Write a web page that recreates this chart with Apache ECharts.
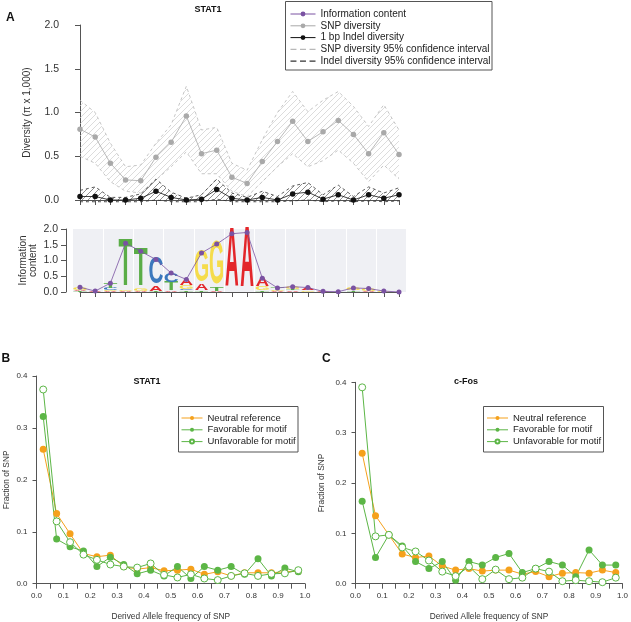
<!DOCTYPE html>
<html><head><meta charset="utf-8">
<script src="https://cdn.jsdelivr.net/npm/echarts@6/dist/echarts.min.js"></script>
<style>html,body{margin:0;padding:0;background:#fff}#c{width:631px;height:622px}</style>
</head><body><div id="c"></div>
<script>
// ---------- Panel A data (22 motif positions) ----------
const positions = ['1','2','3','4','5','6','7','8','9','10','11','12','13','14','15','16','17','18','19','20','21','22'];
const snpDiversity = [0.81,0.72,0.42,0.23,0.22,0.49,0.66,0.96,0.53,0.57,0.26,0.19,0.44,0.67,0.90,0.67,0.78,0.91,0.75,0.53,0.77,0.52];
const snpUpper = [1.14,1.00,0.65,0.38,0.40,0.65,0.86,1.30,0.80,0.83,0.42,0.34,0.69,1.00,1.24,1.01,1.14,1.24,1.07,0.84,1.09,0.80];
const snpLower = [0.50,0.42,0.21,0.10,0.08,0.23,0.38,0.55,0.30,0.30,0.10,0.04,0.21,0.38,0.53,0.38,0.45,0.57,0.42,0.21,0.40,0.24];
const indelDiversity = [0.04,0.04,0.00,0.00,0.02,0.10,0.03,0.00,0.01,0.12,0.02,0.00,0.03,0.00,0.07,0.09,0.01,0.06,0.00,0.06,0.02,0.06];
const indelUpper = [0.11,0.15,0.03,0.03,0.07,0.24,0.09,0.02,0.06,0.24,0.08,0.03,0.10,0.04,0.16,0.20,0.06,0.17,0.04,0.15,0.08,0.14];
const indelLower = [-0.02,-0.02,-0.02,-0.02,-0.02,0.00,-0.02,-0.02,-0.02,0.01,-0.02,-0.02,-0.02,-0.02,-0.01,0.00,-0.02,-0.01,-0.02,-0.01,-0.02,-0.01];
const infoContent = [0.15,0.03,0.28,1.55,1.29,1.03,0.60,0.40,1.24,1.52,1.85,1.89,0.44,0.13,0.17,0.14,0.02,0.01,0.13,0.11,0.03,0.00];
// sequence logo: letters stacked bottom -> top with heights (bits)
const logoLetters = [
  [['T',0.02],['A',0.05],['G',0.07]],
  [['A',0.02]],
  [['A',0.03],['G',0.03],['C',0.06],['T',0.16]],
  [['A',0.02],['G',0.03],['T',1.50]],
  [['A',0.03],['G',0.07],['T',1.18]],
  [['T',0.02],['A',0.18],['C',0.83]],
  [['A',0.02],['T',0.28],['C',0.30]],
  [['T',0.05],['C',0.04],['G',0.10],['A',0.20]],
  [['T',0.04],['A',0.20],['G',1.00]],
  [['A',0.03],['T',0.12],['G',1.37]],
  [['A',1.85]],
  [['A',1.89]],
  [['T',0.05],['G',0.12],['A',0.27]],
  [['A',0.03],['G',0.04],['T',0.06]],
  [['A',0.05],['T',0.05],['G',0.07]],
  [['G',0.05],['A',0.09]],
  [['A',0.02]],
  [],
  [['T',0.05],['G',0.08]],
  [['A',0.04],['G',0.07]],
  [['G',0.03]],
  []
];
// ---------- Panels B & C data ----------
const afBins = [0.025,0.075,0.125,0.175,0.225,0.275,0.325,0.375,0.425,0.475,0.525,0.575,0.625,0.675,0.725,0.775,0.825,0.875,0.925,0.975];
const stat1Neutral = [0.259,0.135,0.096,0.058,0.052,0.055,0.033,0.028,0.031,0.025,0.026,0.028,0.018,0.023,0.015,0.021,0.021,0.021,0.023,0.024];
const stat1Favorable = [0.322,0.086,0.071,0.063,0.033,0.051,0.037,0.019,0.026,0.015,0.033,0.010,0.033,0.026,0.033,0.018,0.048,0.015,0.030,0.023];
const stat1Unfavorable = [0.374,0.120,0.080,0.056,0.046,0.037,0.033,0.031,0.039,0.017,0.012,0.018,0.010,0.007,0.015,0.020,0.015,0.019,0.020,0.026];
const cfosNeutral = [0.259,0.135,0.097,0.059,0.052,0.055,0.035,0.027,0.030,0.025,0.027,0.027,0.019,0.024,0.014,0.021,0.022,0.021,0.027,0.022];
const cfosFavorable = [0.164,0.052,0.097,0.075,0.044,0.030,0.044,0.007,0.044,0.037,0.052,0.060,0.022,0.030,0.044,0.037,0.014,0.067,0.037,0.037];
const cfosUnfavorable = [0.390,0.094,0.097,0.072,0.064,0.046,0.024,0.015,0.034,0.009,0.028,0.009,0.012,0.030,0.024,0.005,0.007,0.005,0.003,0.012];

// ---------- styling ----------
const FONT = '"Liberation Sans", Arial, Helvetica, sans-serif';
const AX = '#555', TX = '#333';
const ORANGE = '#f5a11c', GREEN = '#5cb646', PURPLE = '#7a52a2';
const LETTER_COLOR = {A:'#e3262a', C:'#3b78bd', G:'#f5dc4c', T:'#5aad47'};
const LETTER_INK = {A:0.72, C:0.66, G:0.70, T:0.60};
const LETTER_IDX = ['A','C','G','T'];
const CAP = 0.70;

function hatch(color, s, lw) {
  const c = document.createElement('canvas');
  c.width = s; c.height = s;
  const ctx = c.getContext('2d');
  ctx.strokeStyle = color; ctx.lineWidth = lw;
  ctx.beginPath();
  ctx.moveTo(0, s); ctx.lineTo(s, 0);
  ctx.moveTo(-1, 1); ctx.lineTo(1, -1);
  ctx.moveTo(s - 1, s + 1); ctx.lineTo(s + 1, s - 1);
  ctx.stroke();
  return {image: c, repeat: 'repeat'};
}
const snpHatch = hatch('#cdcdcd', 6, 0.7);
const indelHatch = hatch('#444', 6, 0.6);

function bandSeries(upper, lower, fill) {
  return {
    type: 'custom', xAxisIndex: 0, yAxisIndex: 0, silent: true, clip: false,
    data: [[0, 0]],
    renderItem: function (params, api) {
      const pts = [];
      for (let i = 0; i < upper.length; i++) pts.push(api.coord([i, upper[i]]));
      for (let i = lower.length - 1; i >= 0; i--) pts.push(api.coord([i, lower[i]]));
      return {type: 'polygon', shape: {points: pts}, style: {fill: fill, stroke: null}};
    }
  };
}
function dashLine(name, arr, color) {
  return {type: 'line', name: name, xAxisIndex: 0, yAxisIndex: 0, clip: false,
    data: arr.map((v, i) => [i, v]), symbol: 'none',
    lineStyle: {color: color, width: 0.8, type: [3, 3]}, itemStyle: {color: color}, z: 3};
}
const logoData = [];
logoLetters.forEach((stack, p) => {
  let base = 0;
  stack.forEach(([l, h]) => { logoData.push([p, base, base + h, LETTER_IDX.indexOf(l)]); base += h; });
});

function axisCommon(extra) {
  const o = {
    axisLine: {show: true, lineStyle: {color: AX, width: 1}},
    axisTick: {show: true, length: 5, lineStyle: {color: AX, width: 1}},
    splitLine: {show: false},
    nameMoveOverlap: false,
    nameTextStyle: {color: TX, fontFamily: FONT}
  };
  return Object.assign(o, extra);
}
const dashIcon = 'path://M0,0H5V1H0Z M8,0H13V1H8Z M16,0H21V1H16Z';

const freqLabel = v => (Math.round(v * 100) % 10 === 0 ? v.toFixed(1) : '');

function afSeries(name, arr, color, xi, empty) {
  return {
    type: 'line', name: name, xAxisIndex: xi, yAxisIndex: xi,
    data: afBins.map((x, i) => [x, arr[i]]),
    symbol: 'circle', symbolSize: 7,
    lineStyle: {color: color, width: 1},
    itemStyle: empty ? {color: '#ffffff', borderColor: color, borderWidth: 1} : {color: color, borderWidth: 0}
  };
}

const option = {
  animation: false,
  backgroundColor: '#fff',
  textStyle: {fontFamily: FONT},
  title: [
    {text: 'STAT1', left: 208, top: 5.5, textAlign: 'center', padding: 0, textStyle: {fontSize: 9, fontWeight: 'bold', fontFamily: FONT, color: '#111'}},
    {text: 'STAT1', left: 147, top: 377, textAlign: 'center', padding: 0, textStyle: {fontSize: 9, fontWeight: 'bold', fontFamily: FONT, color: '#111'}},
    {text: 'c-Fos', left: 466, top: 377, textAlign: 'center', padding: 0, textStyle: {fontSize: 9, fontWeight: 'bold', fontFamily: FONT, color: '#111'}}
  ],
  grid: [
    {left: 80, right: 232, top: 25, height: 175},
    {left: 72.4, right: 224.4, top: 229, height: 63, show: true, backgroundColor: '#eff0f4', borderWidth: 0},
    {left: 80, right: 232, top: 229, height: 63},
    {left: 36.5, width: 268.5, top: 376, height: 207.7},
    {left: 355.5, width: 269.5, top: 382.3, height: 201.4}
  ],
  xAxis: [
    axisCommon({type: 'value', gridIndex: 0, min: 0, max: 21, interval: 1, offset: 8, axisLabel: {show: false}}),
    {type: 'category', gridIndex: 1, data: positions, boundaryGap: true, axisLine: {show: false}, axisTick: {show: false}, axisLabel: {show: false},
      splitLine: {show: true, lineStyle: {color: '#ffffff', width: 1}}},
    axisCommon({type: 'value', gridIndex: 2, min: 0, max: 21, interval: 1, offset: 4, axisLabel: {show: false}}),
    axisCommon({type: 'value', gridIndex: 3, min: 0, max: 1, interval: 0.05,
      axisLabel: {formatter: freqLabel, fontSize: 8, color: TX, fontFamily: FONT, margin: 8, showMinLabel: true, showMaxLabel: true},
      name: 'Derived Allele frequency of SNP', nameLocation: 'middle', nameGap: 29, nameTextStyle: {fontSize: 8.3, color: TX, fontFamily: FONT}}),
    axisCommon({type: 'value', gridIndex: 4, min: 0, max: 1, interval: 0.05,
      axisLabel: {formatter: freqLabel, fontSize: 8, color: TX, fontFamily: FONT, margin: 8, showMinLabel: true, showMaxLabel: true},
      name: 'Derived Allele frequency of SNP', nameLocation: 'middle', nameGap: 29, nameTextStyle: {fontSize: 8.3, color: TX, fontFamily: FONT}})
  ],
  yAxis: [
    axisCommon({type: 'value', gridIndex: 0, min: 0, max: 2, interval: 0.5, offset: 12,
      axisLabel: {formatter: v => v.toFixed(1), fontSize: 10.5, color: TX, fontFamily: FONT, margin: 9},
      name: 'Diversity (π x 1,000)', nameLocation: 'middle', nameGap: 36, nameTextStyle: {fontSize: 10, color: TX, fontFamily: FONT}}),
    axisCommon({type: 'value', gridIndex: 1, min: 0, max: 2, interval: 0.5, offset: 6.4,
      axisLabel: {formatter: v => v.toFixed(1), fontSize: 10.5, color: TX, fontFamily: FONT, margin: 8},
      name: 'Information\ncontent', nameLocation: 'middle', nameGap: 28, nameTextStyle: {fontSize: 10, lineHeight: 10, color: TX, fontFamily: FONT}}),
    {type: 'value', gridIndex: 2, min: 0, max: 2, show: false},
    axisCommon({type: 'value', gridIndex: 3, min: 0, max: 0.4, interval: 0.1,
      axisTick: {show: true, length: 4, lineStyle: {color: AX}},
      axisLabel: {formatter: v => v.toFixed(1), fontSize: 8, color: TX, fontFamily: FONT, margin: 9},
      name: 'Fraction of SNP', nameLocation: 'middle', nameGap: 26, nameTextStyle: {fontSize: 8.3, color: TX, fontFamily: FONT}}),
    axisCommon({type: 'value', gridIndex: 4, min: 0, max: 0.4, interval: 0.1,
      axisTick: {show: true, length: 4, lineStyle: {color: AX}},
      axisLabel: {formatter: v => v.toFixed(1), fontSize: 8, color: TX, fontFamily: FONT, margin: 9},
      name: 'Fraction of SNP', nameLocation: 'middle', nameGap: 30, nameTextStyle: {fontSize: 8.3, color: TX, fontFamily: FONT}})
  ],
  legend: [
    {orient: 'vertical', left: 290, top: 9, padding: 0, itemWidth: 25, itemHeight: 6, itemGap: 1.8,
      lineStyle: {width: 1},
      textStyle: {fontSize: 10, color: '#222', fontFamily: FONT},
      data: ['Information content', 'SNP diversity', '1 bp Indel diversity',
        {name: 'SNP diversity 95% confidence interval', icon: dashIcon},
        {name: 'Indel diversity 95% confidence interval', icon: dashIcon}]},
    {orient: 'vertical', left: 181, top: 413, padding: 0, itemWidth: 21, itemHeight: 5, itemGap: 1.8,
      lineStyle: {width: 1},
      textStyle: {fontSize: 9.5, color: '#222', fontFamily: FONT},
      data: ['Neutral reference', 'Favorable for motif', 'Unfavorable for motif']},
    {orient: 'vertical', left: 486.5, top: 413, padding: 0, itemWidth: 21, itemHeight: 5, itemGap: 1.8,
      lineStyle: {width: 1},
      textStyle: {fontSize: 9.5, color: '#222', fontFamily: FONT},
      data: ['Neutral reference', 'Favorable for motif', 'Unfavorable for motif']}
  ],
  graphic: [
    {type: 'text', left: 6, top: 12, style: {text: 'A', font: 'bold 12px ' + FONT, fill: '#111'}},
    {type: 'text', left: 1.5, top: 353, style: {text: 'B', font: 'bold 12px ' + FONT, fill: '#111'}},
    {type: 'text', left: 322, top: 353, style: {text: 'C', font: 'bold 12px ' + FONT, fill: '#111'}},
    {type: 'rect', shape: {x: 285.5, y: 1.5, width: 206.5, height: 68.5}, style: {fill: 'none', stroke: '#555', lineWidth: 1}},
    {type: 'rect', shape: {x: 178.5, y: 406.5, width: 119.5, height: 45.5}, style: {fill: 'none', stroke: '#555', lineWidth: 1}},
    {type: 'rect', shape: {x: 483.5, y: 406.5, width: 120, height: 45.5}, style: {fill: 'none', stroke: '#555', lineWidth: 1}}
  ],
  series: [
    bandSeries(snpUpper, snpLower, snpHatch),
    dashLine('SNP diversity 95% confidence interval', snpUpper, '#b8b8b8'),
    dashLine('SNP diversity 95% confidence interval', snpLower, '#b8b8b8'),
    {type: 'line', name: 'SNP diversity', xAxisIndex: 0, yAxisIndex: 0, data: snpDiversity.map((v, i) => [i, v]),
      symbol: 'circle', symbolSize: 5.5, lineStyle: {color: '#a8a8a8', width: 0.8}, itemStyle: {color: '#a9a9a9'}, z: 4},
    bandSeries(indelUpper, indelLower, indelHatch),
    dashLine('Indel diversity 95% confidence interval', indelUpper, '#333'),
    dashLine('Indel diversity 95% confidence interval', indelLower, '#333'),
    {type: 'line', name: '1 bp Indel diversity', xAxisIndex: 0, yAxisIndex: 0, clip: false, data: indelDiversity.map((v, i) => [i, v]),
      symbol: 'circle', symbolSize: 5.5, lineStyle: {color: '#111', width: 0.8}, itemStyle: {color: '#111'}, z: 4},
    {type: 'custom', xAxisIndex: 1, yAxisIndex: 1, silent: true, data: logoData,
      encode: {x: 0, y: 1},
      renderItem: function (params, api) {
        const p = api.value(0), b = api.value(1), t = api.value(2);
        const letter = LETTER_IDX[api.value(3)];
        const pb = api.coord([p, b]), pt = api.coord([p, t]);
        const h = pb[1] - pt[1];
        if (h < 0.5) return null;
        const bw = api.size([1, 0])[0];
        return {type: 'text', x: pb[0], y: (pb[1] + pt[1]) / 2,
          scaleX: (bw * 0.9) / (LETTER_INK[letter] * 100), scaleY: h / (CAP * 100),
          style: {text: letter, font: 'bold 100px "Liberation Sans"', fill: LETTER_COLOR[letter], align: 'center', verticalAlign: 'middle'}};
      }},
    {type: 'line', name: 'Information content', xAxisIndex: 1, yAxisIndex: 1, data: infoContent,
      symbol: 'circle', symbolSize: 5, lineStyle: {color: PURPLE, width: 0.8}, itemStyle: {color: PURPLE}, z: 5},
    afSeries('Neutral reference', stat1Neutral, ORANGE, 3, false),
    afSeries('Favorable for motif', stat1Favorable, GREEN, 3, false),
    afSeries('Unfavorable for motif', stat1Unfavorable, GREEN, 3, true),
    afSeries('Neutral reference', cfosNeutral, ORANGE, 4, false),
    afSeries('Favorable for motif', cfosFavorable, GREEN, 4, false),
    afSeries('Unfavorable for motif', cfosUnfavorable, GREEN, 4, true)
  ]
};
const chart = echarts.init(document.getElementById('c'));
chart.setOption(option);
</script></body></html>
